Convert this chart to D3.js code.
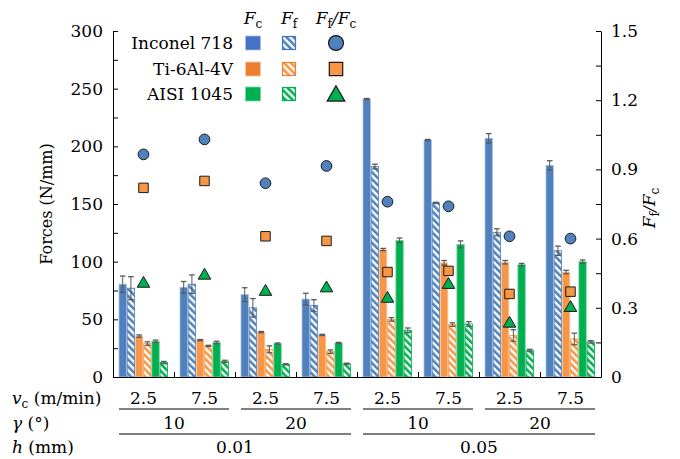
<!DOCTYPE html>
<html>
<head>
<meta charset="utf-8">
<script src="https://cdn.jsdelivr.net/npm/d3@7"></script>
<style>
  body { margin: 0; background: #fff; }
  text { font-family: "DejaVu Serif", serif; fill: #000; }
</style>
</head>
<body>
<div id="chart"></div>
<script>
// categories
var vcLabels = ["2.5", "7.5", "2.5", "7.5", "2.5", "7.5", "2.5", "7.5"];
var gammaLabels = ["10", "20", "10", "20"];
var hLabels = ["0.01", "0.05"];
var materials = ["Inconel 718", "Ti-6Al-4V", "AISI 1045"];

// forces (N/mm)
var fcInconel = [80.5, 77.8, 71.4, 67.6, 241, 205.5, 207, 183.5];
var ffInconel = [77, 80.5, 60, 62, 182.5, 151, 125.5, 109.5];
var fcTi = [35.5, 32, 39, 36.5, 110.5, 99, 99.5, 91];
var ffTi = [29, 27, 24, 22, 50, 45.5, 36, 33];
var fcAisi = [31, 30, 29, 29.5, 118.5, 115, 97.5, 100];
var ffAisi = [12.5, 13.5, 11, 11.5, 40.5, 46, 23, 30.5];

// error bars
var errFcInconel = [7, 5, 6, 5, 0.5, 0.5, 4, 4];
var errFfInconel = [10, 8, 8, 5, 2, 0.5, 3, 4];
var errFcTi = [1, 0.5, 0.5, 0.5, 1, 2, 1.5, 1.5];
var errFfTi = [1.5, 0.5, 3, 1.5, 1.5, 1.5, 5, 5];
var errFcAisi = [1, 1, 0.5, 0.5, 2, 3, 1, 1.5];
var errFfAisi = [1, 1, 0.5, 0.5, 2, 2, 1, 1];

// Ff/Fc ratio
var ratioInconel = [0.965, 1.03, 0.84, 0.915, 0.76, 0.74, 0.61, 0.60];
var ratioTi = [0.82, 0.85, 0.61, 0.59, 0.455, 0.46, 0.36, 0.37];
var ratioAisi = [0.41, 0.445, 0.375, 0.39, 0.345, 0.405, 0.237, 0.305];

var leftTicks = d3.range(0, 301, 25);
var rightTicks = d3.range(0, 1.51, 0.15);

var W = 680, H = 459;
var plot = { left: 113, right: 601, top: 31, bottom: 377 };

var barColors = ["#4F81BD", "#F79646", "#00B050"];
var legColors = ["#4472C4", "#ED7D31", "#00B050"];
var edgeColors = ["#a9c1e3", "#fbc9a0", "#7fd7a7"];

var series = [
  { key: "fcI", vals: fcInconel, err: errFcInconel, mat: 0, hatch: false },
  { key: "ffI", vals: ffInconel, err: errFfInconel, mat: 0, hatch: true },
  { key: "fcT", vals: fcTi, err: errFcTi, mat: 1, hatch: false },
  { key: "ffT", vals: ffTi, err: errFfTi, mat: 1, hatch: true },
  { key: "fcA", vals: fcAisi, err: errFcAisi, mat: 2, hatch: false },
  { key: "ffA", vals: ffAisi, err: errFfAisi, mat: 2, hatch: true }
];
var ratios = [ratioInconel, ratioTi, ratioAisi];

var svg = d3.select("#chart").append("svg")
  .attr("width", W)
  .attr("height", H);

// hatch patterns
var defs = svg.append("defs");
barColors.forEach(function(c, i) {
  var p = defs.append("pattern")
    .attr("id", "hatch" + i)
    .attr("patternUnits", "userSpaceOnUse")
    .attr("width", 5).attr("height", 5)
    .attr("patternTransform", "rotate(-45)");
  p.append("rect").attr("width", 5).attr("height", 5).attr("fill", "#fff");
  p.append("rect").attr("width", 2.6).attr("height", 5).attr("fill", c);
});

// scales
var x0 = d3.scaleBand().domain(d3.range(8)).range([plot.left, plot.right]);
var x1 = d3.scaleBand().domain(series.map(function(s) { return s.key; }))
  .range([6, x0.bandwidth() - 6.5]).paddingInner(0.1);
var y = d3.scaleLinear().domain([0, 300]).range([plot.bottom, plot.top]);
var y2 = d3.scaleLinear().domain([0, 1.5]).range([plot.bottom, plot.top]);

// bars
series.forEach(function(s) {
  var g = svg.append("g");
  s.vals.forEach(function(v, i) {
    var bx = x0(i) + x1(s.key);
    g.append("rect")
      .attr("x", bx)
      .attr("y", y(v))
      .attr("width", x1.bandwidth())
      .attr("height", y(0) - y(v))
      .attr("fill", s.hatch ? "url(#hatch" + s.mat + ")" : barColors[s.mat])
      .attr("stroke", s.hatch ? barColors[s.mat] : edgeColors[s.mat])
      .attr("stroke-width", 0.8);
    // error bar
    var cx = bx + x1.bandwidth() / 2;
    var e = s.err[i];
    g.append("line")
      .attr("x1", cx).attr("x2", cx)
      .attr("y1", y(v + e)).attr("y2", y(v - e))
      .attr("stroke", "#595959").attr("stroke-width", 1);
    [v + e, v - e].forEach(function(ev) {
      g.append("line")
        .attr("x1", cx - 2.8).attr("x2", cx + 2.8)
        .attr("y1", y(ev)).attr("y2", y(ev))
        .attr("stroke", "#595959").attr("stroke-width", 1.3);
    });
  });
});

// ratio markers
var sym = [d3.symbolCircle, d3.symbolSquare, d3.symbolTriangle];
var symSize = [90, 90, 68];
ratios.forEach(function(arr, m) {
  arr.forEach(function(r, i) {
    svg.append("path")
      .attr("d", d3.symbol().type(sym[m]).size(symSize[m])())
      .attr("transform", "translate(" + (x0(i) + x0.bandwidth() / 2) + "," + (y2(r) + (m === 2 ? 1.2 : 0)) + ")")
      .attr("fill", barColors[m])
      .attr("stroke", "#1a1a1a")
      .attr("stroke-width", 1);
  });
});

// axes
var leftAxis = d3.axisLeft(y)
  .tickValues(leftTicks)
  .tickSizeInner(-5).tickSizeOuter(0).tickPadding(10)
  .tickFormat(function(d) { return d % 50 === 0 ? d : ""; });
svg.append("g").attr("transform", "translate(" + plot.left + ",0)")
  .call(leftAxis)
  .call(function(g) {
    g.selectAll("text").style("font-family", "DejaVu Serif").style("font-size", "17px");
    g.selectAll("line, path").attr("stroke", "#000");
  });

var rightAxis = d3.axisRight(y2)
  .tickValues(rightTicks)
  .tickSizeInner(-5).tickSizeOuter(0).tickPadding(10)
  .tickFormat(function(d) {
    var k = Math.round(d / 0.15);
    return k % 2 === 0 ? (k === 0 ? "0" : d3.format(".1f")(d)) : "";
  });
svg.append("g").attr("transform", "translate(" + plot.right + ",0)")
  .call(rightAxis)
  .call(function(g) {
    g.selectAll("text").style("font-family", "DejaVu Serif").style("font-size", "17px");
    g.selectAll("line, path").attr("stroke", "#000");
  });

// boundaries of the groups drawn through a linear scale on the group index
var xb = d3.scaleLinear().domain([0, 8]).range([plot.left, plot.right]);
svg.append("g").attr("transform", "translate(0," + plot.bottom + ")")
  .call(d3.axisBottom(xb).tickValues(d3.range(9)).tickSizeInner(-5).tickSizeOuter(0).tickFormat(""))
  .call(function(g) { g.selectAll("line, path").attr("stroke", "#000"); });

// axis titles
svg.append("text")
  .attr("transform", "translate(52," + ((plot.top + plot.bottom) / 2) + ") rotate(-90)")
  .attr("text-anchor", "middle")
  .style("font-size", "16px")
  .text("Forces (N/mm)");

var rt = svg.append("text")
  .attr("transform", "translate(655," + ((plot.top + plot.bottom) / 2 + 4) + ") rotate(-90)")
  .attr("text-anchor", "middle")
  .style("font-size", "17px");
rt.append("tspan").style("font-style", "italic").text("F");
rt.append("tspan").attr("dy", 4).style("font-size", "12px").text("f");
rt.append("tspan").attr("dy", -4).style("font-style", "italic").text("/F");
rt.append("tspan").attr("dy", 4).style("font-size", "12px").text("c");

// legend
var legX = { name: 233, fc: 253, ff: 289, ratio: 336 };
var legRows = [43, 69, 94];
function subLabel(x, yy, parts) {
  var t = svg.append("text").attr("x", x).attr("y", yy)
    .attr("text-anchor", "middle").style("font-size", "17px");
  parts.forEach(function(p) {
    t.append("tspan")
      .attr("dy", p[2])
      .style("font-style", p[1] ? "italic" : "normal")
      .style("font-size", p[1] ? "17px" : "12px")
      .text(p[0]);
  });
}
subLabel(legX.fc, 24, [["F", true, 0], ["c", false, 4]]);
subLabel(legX.ff, 24, [["F", true, 0], ["f", false, 4]]);
subLabel(legX.ratio, 24, [["F", true, 0], ["f", false, 4], ["/F", true, -4], ["c", false, 4]]);

materials.forEach(function(m, i) {
  var cy = legRows[i];
  svg.append("text")
    .attr("x", legX.name).attr("y", cy + 6)
    .attr("text-anchor", "end")
    .style("font-size", "17px")
    .text(m);
  svg.append("rect")
    .attr("x", legX.fc - 7.5).attr("y", cy - 7)
    .attr("width", 15).attr("height", 14)
    .attr("fill", legColors[i])
    .attr("stroke", edgeColors[i]).attr("stroke-width", 0.8);
  svg.append("rect")
    .attr("x", legX.ff - 6.5).attr("y", cy - 6.5)
    .attr("width", 13).attr("height", 13)
    .attr("fill", "url(#hatch" + i + ")")
    .attr("stroke", legColors[i]).attr("stroke-width", 1.2);
  svg.append("path")
    .attr("d", d3.symbol().type(sym[i]).size([175, 180, 135][i])())
    .attr("transform", "translate(" + legX.ratio + "," + (cy + (i === 2 ? 2 : 0)) + ")")
    .attr("fill", barColors[i])
    .attr("stroke", "#1a1a1a")
    .attr("stroke-width", 1.2);
});

// category labels under the axis
var rowY = { vc: 404, gamma: 429, h: 453 };
var ttl = [
  { y: rowY.vc, parts: [["v", true, 0], ["c", false, 4], [" (m/min)", false, -4, true]] },
  { y: rowY.gamma, parts: [["γ", true, 0], [" (°)", false, 0, true]] },
  { y: rowY.h, parts: [["h", true, 0], [" (mm)", false, 0, true]] }
];
ttl.forEach(function(r) {
  var t = svg.append("text").attr("x", 12).attr("y", r.y).style("font-size", "17px");
  r.parts.forEach(function(p) {
    t.append("tspan").attr("dy", p[2])
      .style("font-style", p[1] ? "italic" : "normal")
      .style("font-size", (p[1] || p[3]) ? "17px" : "12px")
      .text(p[0]);
  });
});

vcLabels.forEach(function(l, i) {
  svg.append("text")
    .attr("x", x0(i) + x0.bandwidth() / 2).attr("y", rowY.vc)
    .attr("text-anchor", "middle").style("font-size", "17px").text(l);
});
var xg = d3.scaleBand().domain(d3.range(4)).range([plot.left, plot.right]);
gammaLabels.forEach(function(l, i) {
  svg.append("line")
    .attr("x1", xg(i) + 6).attr("x2", xg(i) + xg.bandwidth() - 6)
    .attr("y1", 409).attr("y2", 409)
    .attr("stroke", "#000").attr("stroke-width", 1);
  svg.append("text")
    .attr("x", xg(i) + xg.bandwidth() / 2).attr("y", rowY.gamma)
    .attr("text-anchor", "middle").style("font-size", "17px").text(l);
});
var xh = d3.scaleBand().domain(d3.range(2)).range([plot.left, plot.right]);
hLabels.forEach(function(l, i) {
  svg.append("line")
    .attr("x1", xh(i) + 6).attr("x2", xh(i) + xh.bandwidth() - 6)
    .attr("y1", 434).attr("y2", 434)
    .attr("stroke", "#000").attr("stroke-width", 1);
  svg.append("text")
    .attr("x", xh(i) + xh.bandwidth() / 2).attr("y", rowY.h)
    .attr("text-anchor", "middle").style("font-size", "17px").text(l);
});
</script>
</body>
</html>
